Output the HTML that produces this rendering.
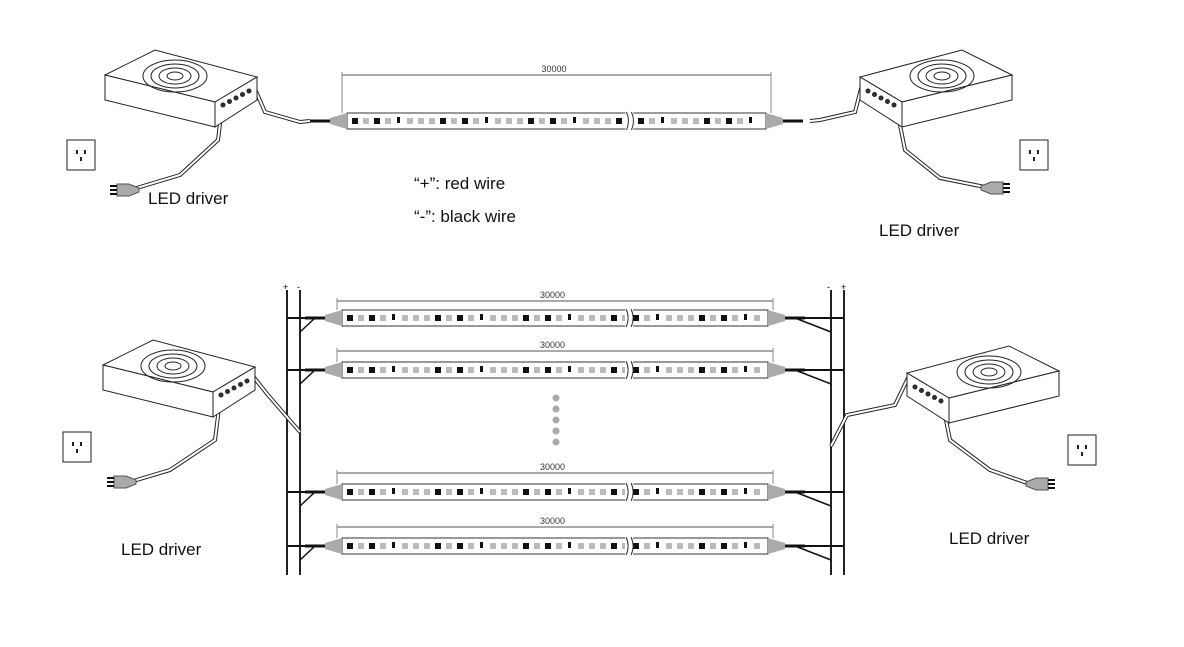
<!DOCTYPE html>
<html><head><meta charset="utf-8"><style>
body{margin:0;background:#fff}
svg{display:block}
text{font-family:"Liberation Sans",sans-serif}
.lbl{font-family:"Liberation Sans",sans-serif;font-size:17px;fill:#111}
</style></head><body>
<svg id="s" width="1184" height="647" viewBox="0 0 1184 647" xmlns="http://www.w3.org/2000/svg">
<g stroke="#222" stroke-width="1" fill="none">
<line x1="287" y1="290" x2="287" y2="575" stroke-width="2"/>
<line x1="300" y1="290" x2="300" y2="575" stroke-width="2"/>
<line x1="831" y1="290" x2="831" y2="575" stroke-width="2"/>
<line x1="844" y1="290" x2="844" y2="575" stroke-width="2"/>
</g>
<text x="283" y="290" font-size="9">+</text><text x="297" y="290" font-size="9">-</text>
<text x="827" y="290" font-size="9">-</text><text x="841" y="290" font-size="9">+</text>
<g id="dyn"></g>
<text class="lbl" x="148" y="204">LED driver</text>
<text class="lbl" x="879" y="236">LED driver</text>
<text class="lbl" x="121" y="555">LED driver</text>
<text class="lbl" x="949" y="544">LED driver</text>
<text class="lbl" x="414" y="189">“+”: red wire</text>
<text class="lbl" x="414" y="222">“-”: black wire</text>
<g fill="#aaa"><circle cx="556" cy="398" r="3.5"/><circle cx="556" cy="409" r="3.5"/><circle cx="556" cy="420" r="3.5"/><circle cx="556" cy="431" r="3.5"/><circle cx="556" cy="442" r="3.5"/></g>
</svg>
<script>
var g=document.getElementById('dyn'),h='';
function strip(y,x1,x2,dimY,bus){
 h+='<line x1="'+x1+'" y1="'+dimY+'" x2="'+x2+'" y2="'+dimY+'" stroke="#555" stroke-width="1"/>';
 h+='<line x1="'+x1+'" y1="'+(dimY-3)+'" x2="'+x1+'" y2="'+(y-8)+'" stroke="#888"/>';
 h+='<line x1="'+x2+'" y1="'+(dimY-3)+'" x2="'+x2+'" y2="'+(y-8)+'" stroke="#888"/>';
 h+='<text x="'+((x1+x2)/2-15)+'" y="'+(dimY-3)+'" font-size="9" fill="#333">30000</text>';
 h+='<rect x="'+(x1+5)+'" y="'+(y-8)+'" width="'+(x2-x1-10)+'" height="16" fill="#fff" stroke="#333"/>';
 h+='<polygon points="'+(x1-12)+','+(y-3)+' '+(x1+5)+','+(y-8)+' '+(x1+5)+','+(y+8)+' '+(x1-12)+','+(y+3)+'" fill="#aaa"/>';
 h+='<polygon points="'+(x2+12)+','+(y-3)+' '+(x2-5)+','+(y-8)+' '+(x2-5)+','+(y+8)+' '+(x2+12)+','+(y+3)+'" fill="#aaa"/>';
 for(var x=x1+10;x<x2-12;x+=11){
  var k=Math.round((x-x1)/11)%8;
  if(k==1||k==3)h+='<rect x="'+x+'" y="'+(y-3)+'" width="6" height="6" fill="#111"/>';
  else if(k==5)h+='<rect x="'+(x+1)+'" y="'+(y-4)+'" width="3" height="6" fill="#111"/>';
  else h+='<rect x="'+x+'" y="'+(y-3)+'" width="6" height="6" fill="#bbb"/>';
 }
 var bx=x1+(x2-x1)*0.67;
 h+='<rect x="'+(bx-4)+'" y="'+(y-9)+'" width="8" height="18" fill="#fff"/>';
 h+='<path d="M'+(bx-3)+' '+(y-9)+' q4 9 0 18 M'+(bx+2)+' '+(y-9)+' q4 9 0 18" stroke="#333" fill="none"/>';
 h+='<line x1="'+(x1-32)+'" y1="'+y+'" x2="'+(x1-12)+'" y2="'+y+'" stroke="#111" stroke-width="3"/>';
 h+='<line x1="'+(x2+12)+'" y1="'+y+'" x2="'+(x2+32)+'" y2="'+y+'" stroke="#111" stroke-width="3"/>';
 if(bus){
  h+='<line x1="287" y1="'+y+'" x2="'+(x1-12)+'" y2="'+y+'" stroke="#111" stroke-width="2"/>';
  h+='<line x1="300" y1="'+(y+14)+'" x2="'+(x1-22)+'" y2="'+y+'" stroke="#111" stroke-width="1.5"/>';
  h+='<line x1="'+(x2+12)+'" y1="'+y+'" x2="844" y2="'+y+'" stroke="#111" stroke-width="2"/>';
  h+='<line x1="831" y1="'+(y+14)+'" x2="'+(x2+22)+'" y2="'+y+'" stroke="#111" stroke-width="1.5"/>';
 }
}
strip(121,342,771,75,false);
[[318,301],[370,351],[492,473],[546,527]].forEach(function(a){strip(a[0],337,773,a[1],true)});
function box(ox,oy,m){
 function p(x,y){return (m?ox-x:ox+x)+','+(oy+y)}
 h+='<g stroke="#222" fill="#fff" stroke-width="1">';
 h+='<polygon points="'+p(0,25)+' '+p(50,0)+' '+p(152,27)+' '+p(110,52)+'"/>';
 h+='<polygon points="'+p(0,25)+' '+p(110,52)+' '+p(110,77)+' '+p(0,50)+'"/>';
 h+='<polygon points="'+p(110,52)+' '+p(152,27)+' '+p(152,50)+' '+p(110,77)+'"/>';
 var cx=m?ox-70:ox+70,cy=oy+26;
 for(var r=1;r<=4;r++)h+='<ellipse cx="'+cx+'" cy="'+cy+'" rx="'+(8*r)+'" ry="'+(4*r)+'" fill="none"/>';
 for(var i=0;i<5;i++)h+='<circle cx="'+(m?ox-(118+i*6.5):ox+118+i*6.5)+'" cy="'+(oy+55-i*3.5)+'" r="2" fill="#333"/>';
 h+='</g>';
}
function wire(d){h+='<path d="'+d+'" stroke="#222" stroke-width="4" fill="none"/><path d="'+d+'" stroke="#fff" stroke-width="2" fill="none"/>'}
function sock(x,y){h+='<rect x="'+x+'" y="'+y+'" width="28" height="30" fill="#fff" stroke="#222"/><rect x="'+(x+9)+'" y="'+(y+10)+'" width="2" height="4" fill="#222"/><rect x="'+(x+17)+'" y="'+(y+10)+'" width="2" height="4" fill="#222"/><rect x="'+(x+13)+'" y="'+(y+17)+'" width="2" height="4" fill="#222"/>'}
function plug(x,y,m){var s=m?-1:1;h+='<polygon points="'+(x)+','+(y-6)+' '+(x+12*s)+','+(y-6)+' '+(x+22*s)+','+(y-2)+' '+(x+22*s)+','+(y+2)+' '+(x+12*s)+','+(y+6)+' '+x+','+(y+6)+'" fill="#aaa" stroke="#555"/>';for(var i=-1;i<=1;i++)h+='<line x1="'+x+'" y1="'+(y+i*4)+'" x2="'+(x-7*s)+'" y2="'+(y+i*4)+'" stroke="#111" stroke-width="2"/>';}
wire('M252 82 L265 112 L300 122 L310 121');
wire('M222 107 L218 140 L180 175 L130 190');
box(105,50,false);plug(117,190,false);sock(67,140);
wire('M862 85 L855 112 L820 120 L810 121');
wire('M897 110 L905 150 L940 178 L990 188');
box(1012,50,true);plug(1003,188,true);sock(1020,140);
wire('M252 375 L268 395 L300 432');
wire('M220 400 L215 440 L170 470 L130 482');
box(103,340,false);plug(114,482,false);sock(63,432);
wire('M908 378 L895 405 L847 415 L831 446');
wire('M942 400 L950 440 L990 470 L1030 484');
box(1059,346,true);plug(1048,484,true);sock(1068,435);
g.innerHTML=h;
</script>
</body></html>
